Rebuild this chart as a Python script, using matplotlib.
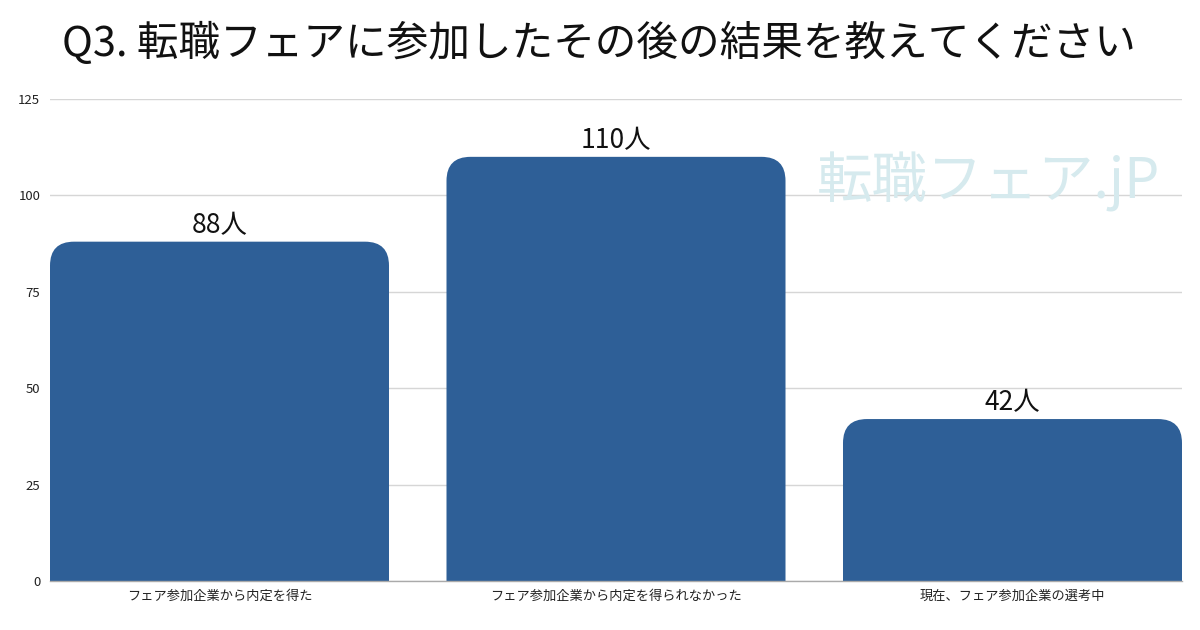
import matplotlib
matplotlib.use("Agg")
import matplotlib.pyplot as plt
from matplotlib.path import Path
from matplotlib.patches import PathPatch

plt.rcParams['font.family'] = ['Noto Sans CJK JP', 'DejaVu Sans']

categories = ["フェア参加企業から内定を得た", "フェア参加企業から内定を得られなかった", "現在、フェア参加企業の選考中"]
values = [88, 110, 42]
value_labels = ["88人", "110人", "42人"]
yticks = [0, 25, 50, 75, 100, 125]
title = "Q3. 転職フェアに参加したその後の結果を教えてください"

bar_color = "#2e5f97"

fig = plt.figure(figsize=(12, 6.3), dpi=100)
ax = fig.add_axes([50/1200, 1-581/630, 1132/1200, (581-99)/630])

bw = 0.855
bars = ax.bar(range(len(values)), values, width=bw, color=bar_color)
ax.set_xlim(-bw/2, len(values) - 1 + bw/2)
ax.set_ylim(0, 125)

# rounded top corners
fig.canvas.draw()
rpx = 24
x0d, y0d = ax.transData.transform((0, 0))
x1d, y1d = ax.transData.transform((1, 1))
rx = rpx / (x1d - x0d) * (fig.dpi / 100)
ry = rpx / (y1d - y0d) * (fig.dpi / 100)
for i, b in enumerate(bars):
    x, y, w, h = b.get_x(), b.get_y(), b.get_width(), b.get_height()
    b.set_visible(False)
    verts = [(x, y), (x, y + h - ry), (x, y + h), (x + rx, y + h),
             (x + w - rx, y + h), (x + w, y + h), (x + w, y + h - ry),
             (x + w, y), (x, y)]
    codes = [Path.MOVETO, Path.LINETO, Path.CURVE3, Path.CURVE3,
             Path.LINETO, Path.CURVE3, Path.CURVE3, Path.LINETO, Path.CLOSEPOLY]
    ax.add_patch(PathPatch(Path(verts, codes), facecolor=bar_color, edgecolor='none', zorder=3))
    ax.annotate(value_labels[i], (x + w/2, y + h), xytext=(0, 2),
                textcoords='offset points', ha='center', va='bottom', fontsize=19, color='#111111')

ax.set_xticks(range(len(values)))
ax.set_xticklabels(categories, fontsize=9.5, color='#222222')
ax.set_yticks(yticks)
ax.set_yticklabels([str(t) for t in yticks], fontsize=9.5, color='#222222')
ax.tick_params(axis='both', length=0)
ax.tick_params(axis='y', pad=7)
ax.tick_params(axis='x', pad=6)
ax.grid(axis='y', color='#d6d6d6', linewidth=1)
ax.set_axisbelow(True)
for s in ['top', 'right', 'left']:
    ax.spines[s].set_visible(False)
ax.spines['bottom'].set_color('#aaaaaa')
ax.spines['bottom'].set_linewidth(1)
ax.spines['bottom'].set_zorder(4)

fig.text(62/1200, 1 - 43/630, title, fontsize=30, ha='left', va='center', color='#111111')

# watermark
fig.text(988/1200, 1 - 182/630, "転職フェア.jP", fontsize=40, ha='center', va='center',
         color='#d6eaee', zorder=0)

fig.savefig("out.png", dpi=100)
